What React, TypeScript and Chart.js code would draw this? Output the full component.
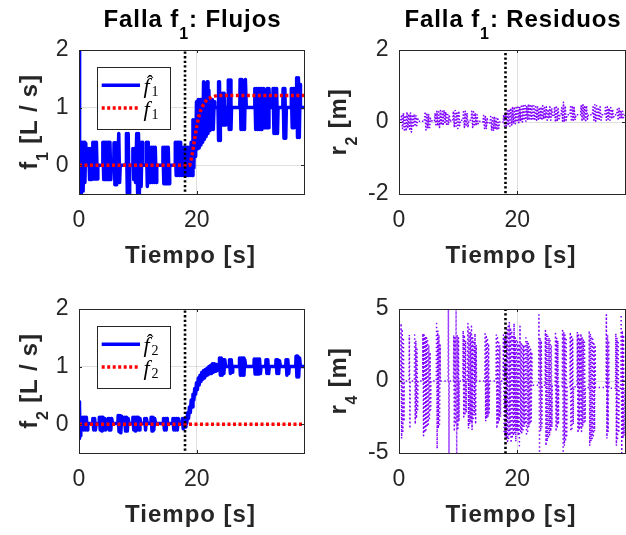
import React, { useEffect, useRef } from "react";
import { Chart, registerables } from "chart.js";

Chart.register(...registerables);

type Pt = [number, number];
type Part = { t: string; sub?: boolean };

// ---------- data (time [s], value) ----------
const T_MAX = 38.2;
const FAULT_TIME = 18;
const TIME_TICKS = [0, 20];
const FLOW_TICKS = [0, 1, 2];
const R2_TICKS = [-2, 0, 2];
const R4_TICKS = [-5, 0, 5];

const f1Estimate: Pt[] = [
  [0, 2], [0.1, -0.48], [0.25, 0.4], [0.4, -0.48], [0.55, 0.4], [0.7, -0.45], [0.85, 0.4], [1.0, -0.3], [1.15, 0.38], [1.25, 0],
  [1.6, 0], [1.65, 0.29], [1.8, -0.25], [1.95, 0.29], [2.1, -0.25], [2.15, 0],
  [2.3, 0], [2.35, 0.4], [2.5, -0.24], [2.65, 0.4], [2.8, -0.24], [2.95, 0.4], [3.1, -0.24], [3.2, 0],
  [4.0, 0], [4.05, 0.4], [4.2, -0.25], [4.35, 0.4], [4.5, -0.25], [4.65, 0.4], [4.8, -0.25], [4.95, 0.4], [5.1, -0.25], [5.25, 0.4], [5.4, -0.25], [5.5, 0],
  [5.9, 0], [5.95, 0.39], [6.1, -0.34], [6.25, 0.39], [6.4, -0.34], [6.55, 0.39], [6.6, 0],
  [6.75, 0.55], [6.9, -0.3], [7.0, 0],
  [8.0, 0], [8.05, 0.55], [8.2, -0.48], [8.35, 0.55], [8.5, -0.48], [8.6, 0],
  [9.1, 0], [9.15, 0.29], [9.3, -0.25], [9.45, 0.29], [9.6, -0.3], [9.8, 0.55], [9.95, -0.48], [10.1, 0.55], [10.25, -0.48], [10.4, 0.4], [10.55, -0.37], [10.7, 0.4], [10.8, 0],
  [11.4, 0], [11.45, 0.4], [11.6, -0.37], [11.75, 0.4], [11.9, -0.3], [12.05, 0.31], [12.2, -0.3], [12.35, 0.31], [12.5, -0.3], [12.65, 0.31], [12.8, -0.3], [12.95, 0.31], [13.1, -0.3], [13.2, 0],
  [14.2, 0], [14.25, 0.31], [14.4, -0.32], [14.55, 0.31], [14.7, -0.32], [14.85, 0.31], [15.0, -0.32], [15.15, 0.31], [15.3, -0.32], [15.4, 0],
  [16.3, 0], [16.35, 0.4], [16.5, -0.18], [16.65, 0.4], [16.8, -0.18], [16.95, 0.4], [17.1, -0.18], [17.25, 0.4], [17.4, -0.18], [17.55, 0.31], [17.7, -0.18], [17.85, 0.31], [18.0, -0.18], [18.15, 0.31], [18.3, -0.18], [18.45, 0.31], [18.6, -0.18], [18.75, 0.31], [18.9, -0.18], [19.05, 0.4],
  [19.2, -0.18], [19.35, 0.79], [19.5, -0.05], [19.65, 0.79], [19.8, 0.15], [19.95, 1.1], [20.1, 0.28], [20.25, 1.14], [20.4, 0.3], [20.55, 1.14], [20.7, 0.35], [20.85, 1.14], [21.0, 0.4], [21.15, 1.45], [21.3, 0.45], [21.45, 1.4], [21.6, 0.5], [21.75, 1.45], [21.9, 0.55], [22.05, 1.3], [22.2, 0.6], [22.35, 1.14], [22.5, 0.62], [22.65, 1.14], [22.8, 0.62], [22.95, 1.1], [23.05, 1],
  [23.6, 1], [23.65, 1.45], [23.75, 0.43], [23.85, 1.45], [23.95, 0.43], [24.0, 1],
  [24.3, 1], [24.35, 1.25], [24.5, 0.7], [24.65, 1.25], [24.8, 0.7], [24.95, 1],
  [25.3, 1], [25.35, 1.48], [25.5, 0.62], [25.65, 1.48], [25.8, 0.62], [25.9, 1],
  [27.3, 1], [27.35, 1.49], [27.5, 0.62], [27.65, 1.49], [27.8, 0.62], [27.95, 1.3], [28.1, 0.62], [28.25, 1.49], [28.4, 1],
  [29.8, 1], [29.85, 1.33], [30.0, 0.62], [30.15, 1.33], [30.3, 0.62], [30.45, 1.33], [30.6, 0.62], [30.75, 1.33], [30.9, 0.62], [31.05, 1.33], [31.2, 0.65], [31.35, 1.33], [31.5, 0.65], [31.65, 1.2], [31.8, 0.65], [31.95, 1.33], [32.1, 0.65], [32.25, 1.33], [32.4, 1],
  [32.9, 1], [32.95, 1.33], [33.1, 0.55], [33.25, 1.33], [33.4, 0.55], [33.55, 1.33], [33.7, 0.55], [33.8, 1],
  [34.6, 1], [34.65, 1.33], [34.8, 0.47], [34.95, 1.33], [35.1, 0.47], [35.2, 1],
  [36.0, 1], [36.05, 1.33], [36.2, 0.65], [36.35, 1.33], [36.5, 0.65], [36.6, 1],
  [36.9, 1], [36.95, 1.52], [37.1, 0.48], [37.25, 1.52], [37.4, 0.48], [37.55, 1.4], [37.6, 1], [38.2, 1],
];

const f1Actual: Pt[] = [
  [0, 0], [18.8, 0], [19.1, 0.12], [19.4, 0.3], [19.7, 0.5], [20.0, 0.68], [20.3, 0.83], [20.6, 0.94],
  [21.0, 1.03], [21.5, 1.11], [22.0, 1.16], [22.7, 1.19], [23.5, 1.21], [38.2, 1.21],
];

const f2Estimate: Pt[] = [
  [0, 0.39], [0.05, -0.25], [0.12, 0.3], [0.2, -0.2], [0.3, 0.1], [0.4, -0.05], [0.55, 0.02],
  [0.65, 0.12], [0.8, -0.1], [0.95, 0.12], [1.1, -0.1], [1.25, 0.12], [1.4, -0.1], [1.5, 0.01],
  [2.3, 0.01], [2.35, 0.1], [2.5, -0.1], [2.65, 0.1], [2.8, -0.1], [2.9, 0.01],
  [3.4, 0.01], [3.45, 0.12], [3.6, -0.1], [3.75, 0.12], [3.9, -0.12], [4.05, 0.12], [4.2, -0.1], [4.35, 0.1], [4.5, -0.1], [4.6, 0.01],
  [4.9, 0.01], [4.95, 0.1], [5.1, -0.1], [5.25, 0.1], [5.4, -0.1], [5.55, 0.1], [5.7, 0.01],
  [6.6, 0.01], [6.65, 0.15], [6.8, -0.13], [6.95, 0.15], [7.1, -0.15], [7.25, 0.14], [7.4, 0.01],
  [7.7, 0.01], [7.75, 0.12], [7.9, -0.12], [8.05, 0.12], [8.2, -0.12], [8.35, 0.1], [8.5, 0.01],
  [9.1, 0.01], [9.15, 0.12], [9.3, -0.1], [9.45, 0.12], [9.6, -0.12], [9.75, 0.12], [9.9, -0.1], [10.05, 0.12], [10.2, -0.1], [10.35, 0.1], [10.5, 0.01],
  [11.1, 0.01], [11.15, 0.1], [11.3, -0.1], [11.45, 0.1], [11.6, 0.01],
  [12.2, 0.01], [12.25, 0.12], [12.4, -0.12], [12.55, 0.12], [12.7, -0.1], [12.85, 0.1], [13.0, 0.01],
  [14.3, 0.01], [14.35, 0.1], [14.5, -0.1], [14.65, 0.1], [14.8, -0.1], [14.95, 0.1], [15.0, 0.01],
  [15.9, 0.01], [15.95, 0.1], [16.1, -0.1], [16.25, 0.1], [16.4, -0.1], [16.55, 0.1], [16.7, -0.1], [16.85, 0.1], [17.0, 0.01],
  [17.5, 0.01], [17.55, 0.1], [17.7, -0.08], [17.85, 0.1], [18.0, -0.05],
  [18.15, 0.1], [18.3, 0.02], [18.45, 0.2], [18.6, 0.1], [18.75, 0.3], [18.9, 0.2], [19.05, 0.42], [19.2, 0.3], [19.35, 0.52], [19.5, 0.42], [19.65, 0.62], [19.8, 0.52], [19.95, 0.72], [20.1, 0.6], [20.25, 0.8], [20.4, 0.68], [20.55, 0.85], [20.7, 0.74], [20.85, 0.9], [21.0, 0.78], [21.15, 0.93], [21.3, 0.8], [21.45, 0.95], [21.6, 0.84], [21.75, 0.97], [21.9, 0.86], [22.05, 1.0], [22.2, 0.88], [22.35, 1.02], [22.5, 0.88], [22.65, 1.05], [22.8, 0.9], [22.95, 1.05], [23.1, 0.92], [23.25, 1.04], [23.4, 0.93], [23.55, 1.03], [23.7, 0.97],
  [23.8, 1.0], [23.85, 1.15], [24.0, 0.85], [24.15, 1.15], [24.3, 0.85], [24.45, 1.12], [24.6, 0.88], [24.75, 1.12], [24.9, 1.0],
  [25.5, 1.0], [25.55, 1.12], [25.7, 0.88], [25.85, 1.12], [26.0, 0.9], [26.1, 1.0],
  [27.2, 1.0], [27.25, 1.15], [27.4, 0.85], [27.55, 1.15], [27.7, 0.85], [27.85, 1.15], [28.0, 0.85], [28.15, 1.12], [28.3, 1.0],
  [29.7, 1.0], [29.75, 1.13], [29.9, 0.87], [30.05, 1.13], [30.2, 0.87], [30.35, 1.13], [30.5, 0.87], [30.65, 1.13], [30.8, 0.88], [30.9, 1.0],
  [31.7, 1.0], [31.75, 1.12], [31.9, 0.88], [32.05, 1.12], [32.2, 0.88], [32.3, 1.0],
  [33.4, 1.0], [33.45, 1.12], [33.6, 0.88], [33.75, 1.12], [33.9, 0.88], [34.05, 1.1], [34.2, 1.0],
  [35.1, 1.0], [35.15, 1.12], [35.3, 0.85], [35.45, 1.12], [35.6, 0.88], [35.7, 1.0],
  [36.8, 1.0], [36.85, 1.18], [37.0, 0.82], [37.15, 1.18], [37.3, 0.82], [37.45, 1.15], [37.6, 1.0], [38.2, 1.0],
];

const f2Actual: Pt[] = [[0, 0], [38.2, 0]];

const r2Residual: Pt[] = [
  [0, 2.5], [0.02, -2.5], [0.04, 0],
  [0.3, 0.05], [0.45, 0.2], [0.6, -0.18], [0.75, 0.25], [0.9, -0.22], [1.05, 0.18], [1.2, -0.25], [1.35, 0.28], [1.5, -0.15], [1.65, 0.22], [1.8, -0.2], [1.95, 0.25], [2.1, -0.28], [2.25, 0.2], [2.4, -0.15], [2.55, 0.22], [2.7, -0.12], [2.85, 0.18], [3.0, -0.1], [3.15, 0.12], [3.3, 0.02],
  [4.3, 0.02], [4.4, 0.28], [4.55, -0.22], [4.7, 0.25], [4.85, -0.18], [5.0, 0.22], [5.15, -0.2], [5.3, 0.1], [5.4, 0.03],
  [6.0, 0.03], [6.1, 0.25], [6.25, -0.12], [6.4, 0.3], [6.55, -0.1], [6.7, 0.28], [6.85, -0.15], [7.0, 0.32], [7.15, -0.08], [7.3, 0.3], [7.45, -0.1], [7.6, 0.33], [7.75, -0.05], [7.9, 0.28], [8.05, -0.1], [8.2, 0.25], [8.35, -0.08], [8.5, 0.2], [8.65, 0.0], [8.8, 0.05],
  [9.1, 0.05], [9.2, 0.3], [9.35, -0.15], [9.5, 0.32], [9.65, -0.12], [9.8, 0.25], [9.95, -0.18], [10.1, 0.3], [10.25, -0.1], [10.4, 0.05],
  [10.8, 0.05], [10.9, 0.28], [11.05, -0.15], [11.2, 0.3], [11.35, -0.12], [11.5, 0.25], [11.65, -0.15], [11.8, 0.05],
  [12.2, 0.05], [12.3, 0.3], [12.45, -0.15], [12.6, 0.28], [12.75, -0.12], [12.9, 0.25], [13.05, -0.1], [13.2, 0.2], [13.35, -0.05], [13.5, 0.02],
  [14.2, 0.0], [14.3, 0.18], [14.45, -0.18], [14.6, 0.15], [14.75, -0.2], [14.9, 0.12], [15.0, -0.05],
  [15.4, -0.02], [15.5, 0.15], [15.65, -0.22], [15.8, 0.12], [15.95, -0.25], [16.1, 0.15], [16.25, -0.2], [16.4, 0.1], [16.55, -0.22], [16.7, 0.12], [16.85, -0.18], [17.0, 0.0],
  [17.6, 0.0], [17.7, 0.2], [17.85, -0.12], [18.0, 0.25], [18.15, -0.15], [18.3, 0.32], [18.45, -0.1], [18.6, 0.35], [18.75, -0.12], [18.9, 0.38], [19.05, -0.08], [19.2, 0.4], [19.35, -0.05], [19.5, 0.42], [19.65, -0.05], [19.8, 0.4], [19.95, 0.0], [20.1, 0.45], [20.25, -0.02], [20.4, 0.42], [20.55, 0.02], [20.7, 0.48], [20.85, 0.0], [21.0, 0.45], [21.15, 0.05], [21.3, 0.5], [21.45, 0.02], [21.6, 0.45], [21.75, 0.05], [21.9, 0.5], [22.05, 0.05], [22.2, 0.45], [22.35, 0.08], [22.5, 0.48], [22.65, 0.05], [22.8, 0.45], [22.95, 0.08], [23.1, 0.42], [23.25, 0.05], [23.4, 0.45], [23.55, 0.08], [23.7, 0.4], [23.85, 0.1], [24.0, 0.42], [24.15, 0.05], [24.3, 0.45], [24.45, 0.08], [24.6, 0.4], [24.75, 0.1], [24.9, 0.42], [25.05, 0.05], [25.2, 0.35], [25.35, 0.1], [25.5, 0.42], [25.65, 0.05], [25.8, 0.38], [25.95, 0.15],
  [26.2, 0.18], [26.3, 0.42], [26.45, 0.0], [26.6, 0.45], [26.75, 0.02], [26.9, 0.4], [27.05, 0.05], [27.2, 0.2],
  [27.4, 0.2], [27.5, 0.4], [27.65, 0.02], [27.8, 0.55], [27.95, 0.0], [28.1, 0.45], [28.25, 0.05], [28.4, 0.2],
  [28.9, 0.2], [29.0, 0.42], [29.15, 0.02], [29.3, 0.45], [29.45, 0.05], [29.6, 0.4], [29.75, 0.05], [29.9, 0.2],
  [30.7, 0.2], [30.8, 0.45], [30.95, 0.02], [31.1, 0.48], [31.25, 0.05], [31.4, 0.42], [31.55, 0.0], [31.7, 0.45], [31.85, 0.08], [32.0, 0.2],
  [32.7, 0.2], [32.8, 0.42], [32.95, 0.05], [33.1, 0.48], [33.25, 0.02], [33.4, 0.45], [33.55, 0.05], [33.7, 0.4], [33.85, 0.08], [34.0, 0.42], [34.15, 0.05], [34.3, 0.2],
  [34.8, 0.2], [34.9, 0.4], [35.05, 0.05], [35.2, 0.42], [35.35, 0.08], [35.5, 0.38], [35.65, 0.05], [35.8, 0.4], [35.95, 0.08], [36.1, 0.35], [36.25, 0.1], [36.4, 0.2],
  [36.8, 0.2], [36.9, 0.35], [37.05, 0.05], [37.2, 0.38], [37.35, 0.08], [37.5, 0.32], [37.65, 0.1], [37.8, 0.3], [37.95, 0.12], [38.2, 0.2],
];

const r4Residual: Pt[] = [
  [0, 6], [0.02, -6], [0.05, 0],
  [0.3, 0], [0.35, 4.0], [0.45, -4.0], [0.55, 3.6], [0.65, -3.5], [0.75, 3.0], [0.85, -2.8], [0.9, 0],
  [1.7, 0], [1.75, 3.2], [1.85, -3.3], [1.9, 0],
  [2.6, 0], [2.65, 3.2], [2.75, -3.0], [2.85, 2.8], [2.95, -2.6], [3.05, 2.2], [3.15, -2.0], [3.2, 0],
  [4.0, 0], [4.05, 3.3], [4.15, -3.8], [4.25, 3.2], [4.35, -3.6], [4.45, 3.1], [4.55, -3.4], [4.65, 3.0], [4.75, -3.2], [4.85, 2.8], [4.95, -3.0], [5.05, 2.5], [5.15, -2.6], [5.25, 2.0], [5.35, -2.0], [5.4, 0],
  [6.3, 0], [6.35, 4.0], [6.45, -4.7], [6.55, 3.5], [6.65, -3.3], [6.75, 3.2], [6.85, -3.0], [6.95, 2.5], [7.0, 0],
  [8.3, 0], [8.35, 5.0], [8.45, -5.0], [8.5, 0],
  [9.2, 0], [9.25, 3.2], [9.35, -3.5], [9.45, 3.0], [9.55, -3.0], [9.65, 5.0], [9.75, -5.0], [9.85, 3.2], [9.95, -3.3], [10.05, 3.0], [10.15, -2.8], [10.2, 0],
  [10.8, 0], [10.85, 3.5], [10.95, -2.5], [11.05, 3.2], [11.15, -2.4], [11.25, 2.8], [11.35, -2.2], [11.4, 0],
  [11.6, 0], [11.65, 4.0], [11.75, -3.3], [11.85, 3.6], [11.95, -3.0], [12.05, 3.4], [12.15, -2.8], [12.25, 3.8], [12.35, -3.4], [12.45, 3.0], [12.55, -2.6], [12.65, 2.8], [12.75, -2.4], [12.85, 3.3], [12.95, -3.0], [13.05, 2.5], [13.1, 0],
  [14.5, 0], [14.55, 3.4], [14.65, -2.8], [14.75, 3.2], [14.85, -2.6], [14.95, 3.0], [15.05, -2.5], [15.15, 2.6], [15.25, -2.2], [15.3, 0],
  [16.4, 0], [16.45, 3.2], [16.55, -3.3], [16.65, 3.0], [16.75, -3.0], [16.85, 2.8], [16.95, -2.8], [17.05, 2.5], [17.15, -2.5], [17.2, 0],
  [17.6, 0], [17.65, 3.2], [17.75, -3.5], [17.85, 3.0], [17.95, -3.8], [18.05, 3.3], [18.15, -4.0], [18.25, 3.6], [18.35, -4.2], [18.45, 3.8], [18.55, -4.0], [18.65, 4.1], [18.75, -3.8], [18.85, 3.7], [18.95, -4.3], [19.05, 3.5], [19.15, -4.0], [19.25, 3.2], [19.35, -3.8], [19.45, 4.0], [19.55, -3.6], [19.65, 3.0], [19.75, -4.2], [19.85, 2.8], [19.95, -3.5], [20.05, 2.7], [20.15, -3.8], [20.25, 2.6], [20.35, -4.5], [20.45, 3.8], [20.55, -3.5], [20.65, 2.7], [20.75, -3.6], [20.85, 2.6], [20.95, -3.4], [21.05, 2.5], [21.15, -3.2], [21.25, 2.4], [21.35, -3.0], [21.45, 3.0], [21.55, -3.8], [21.65, 2.8], [21.75, -3.5], [21.85, 2.6], [21.95, -3.2], [22.05, 2.4], [22.15, -3.0], [22.25, 2.2], [22.35, -2.8], [22.45, 2.0], [22.5, -0.3],
  [23.6, -0.3], [23.65, 4.6], [23.75, -5.0], [23.85, 3.0], [23.95, -3.5], [24.05, 2.8], [24.15, -3.2], [24.2, -0.3],
  [24.7, -0.3], [24.75, 3.5], [24.85, -4.5], [24.95, 3.3], [25.05, -4.2], [25.15, 3.1], [25.25, -4.0], [25.35, 3.0], [25.45, -3.8], [25.55, 2.8], [25.65, -3.5], [25.75, 2.5], [25.85, -3.2], [25.9, -0.35],
  [26.4, -0.35], [26.45, 3.3], [26.55, -3.5], [26.65, 3.0], [26.75, -3.2], [26.85, 2.8], [26.95, -3.0], [27.0, -0.35],
  [27.6, -0.35], [27.65, 3.5], [27.75, -5.0], [27.85, 3.4], [27.95, -4.5], [28.05, 3.2], [28.15, -4.2], [28.25, 3.0], [28.35, -3.8], [28.4, -0.4],
  [28.9, -0.4], [28.95, 3.4], [29.05, -3.5], [29.15, 3.2], [29.25, -3.3], [29.35, 3.0], [29.45, -3.0], [29.5, -0.4],
  [30.1, -0.4], [30.15, 3.4], [30.25, -3.6], [30.35, 3.2], [30.45, -3.4], [30.55, 3.0], [30.65, -3.2], [30.75, 3.3], [30.85, -3.5], [30.95, 3.1], [31.05, -3.2], [31.15, 2.9], [31.25, -3.0], [31.35, 2.7], [31.45, -2.8], [31.5, -0.45],
  [32.1, -0.45], [32.15, 3.5], [32.25, -4.5], [32.35, 3.3], [32.45, -4.2], [32.55, 3.1], [32.65, -4.0], [32.75, 2.9], [32.85, -3.8], [32.95, 2.7], [33.05, -3.5], [33.15, 2.5], [33.2, -0.45],
  [35.0, -0.45], [35.05, 4.6], [35.15, -4.0], [35.25, 3.2], [35.35, -3.5], [35.45, 2.8], [35.5, -0.5],
  [36.6, -0.5], [36.65, 3.3], [36.75, -4.5], [36.85, 3.0], [36.95, -4.0], [37.05, 2.8], [37.15, -3.6], [37.2, -0.5],
  [37.5, -0.5], [37.55, 4.6], [37.65, -5.0], [37.75, 3.5], [37.85, -4.0], [37.95, 3.2], [38.05, -3.8], [38.2, -0.5],
];

// ---------- styling ----------
const BLUE = "#0000ff";
const RED = "#ff0000";
const PURPLE = "#7f00ff";
const AXIS = "#262626";
const GRID = "rgba(38,38,38,0.15)";
const SANS = "'Liberation Sans', Arial, Helvetica, sans-serif";
const SERIF = "'Liberation Serif', 'DejaVu Serif', serif";

function drawRich(
  ctx: CanvasRenderingContext2D,
  parts: Part[],
  x: number,
  y: number,
  mainFont: string,
  subFont: string,
  subDy: number,
  spacing: number
) {
  ctx.textAlign = "left";
  ctx.textBaseline = "alphabetic";
  (ctx as any).letterSpacing = spacing + "px";
  const widths = parts.map((p) => {
    ctx.font = p.sub ? subFont : mainFont;
    return ctx.measureText(p.t).width;
  });
  const total = widths.reduce((a, b) => a + b, 0);
  let cx = x - total / 2;
  parts.forEach((p, i) => {
    ctx.font = p.sub ? subFont : mainFont;
    ctx.fillText(p.t, cx, y + (p.sub ? subDy : 0));
    cx += widths[i];
  });
  (ctx as any).letterSpacing = "0px";
}

type LegendEntry = { color: string; width: number; dash: number[]; hat: boolean; sub: string };

const decorPlugin = {
  id: "decor",
  afterDraw(chart: any, _args: any, opts: any) {
    const { ctx, chartArea: a } = chart;
    const xs = chart.scales.x;
    const ys = chart.scales.y;
    ctx.save();
    // inward tick marks
    ctx.strokeStyle = AXIS;
    ctx.lineWidth = 1;
    ctx.setLineDash([]);
    ctx.beginPath();
    for (const v of opts.xTicks as number[]) {
      const px = Math.round(xs.getPixelForValue(v)) + 0.5;
      ctx.moveTo(px, a.bottom);
      ctx.lineTo(px, a.bottom - 3);
      ctx.moveTo(px, a.top);
      ctx.lineTo(px, a.top + 3);
    }
    for (const v of opts.yTicks as number[]) {
      const py = Math.round(ys.getPixelForValue(v)) + 0.5;
      ctx.moveTo(a.left, py);
      ctx.lineTo(a.left + 3, py);
      ctx.moveTo(a.right, py);
      ctx.lineTo(a.right - 3, py);
    }
    ctx.stroke();
    // box
    ctx.strokeRect(Math.round(a.left) + 0.5, Math.round(a.top) + 0.5, Math.round(a.right - a.left), Math.round(a.bottom - a.top));

    const cxm = (a.left + a.right) / 2;
    const cym = (a.top + a.bottom) / 2;

    // title
    if (opts.title) {
      ctx.fillStyle = "#000";
      drawRich(ctx, opts.title, cxm + 1, a.top - 23.3, `bold 24px ${SANS}`, `bold 16px ${SANS}`, 12, 0.9);
    }
    // x label
    ctx.fillStyle = AXIS;
    drawRich(ctx, opts.xLabel, cxm - 1, a.bottom + 69, `bold 24px ${SANS}`, `bold 16px ${SANS}`, 11.5, 1);
    // y label (rotated)
    ctx.save();
    ctx.translate(a.left - opts.yLabelGap, cym);
    ctx.rotate(-Math.PI / 2);
    ctx.fillStyle = AXIS;
    drawRich(ctx, opts.yLabel, 0, 0, `bold 24px ${SANS}`, `bold 16px ${SANS}`, 11, 0.8);
    ctx.restore();

    // legend
    if (opts.legend) {
      const entries = opts.legend as LegendEntry[];
      const bx = Math.round(a.left + 17.7) + 0.5;
      const by = Math.round(a.top + 16.7) + 0.5;
      ctx.fillStyle = "#fff";
      ctx.fillRect(bx, by, 73, 62);
      ctx.strokeStyle = AXIS;
      ctx.lineWidth = 1;
      ctx.setLineDash([]);
      ctx.strokeRect(bx, by, 73, 62);
      entries.forEach((e, i) => {
        const ly = a.top + (i === 0 ? 35.3 : 58);
        ctx.save();
        ctx.strokeStyle = e.color;
        ctx.lineWidth = e.width;
        ctx.lineCap = "butt";
        ctx.setLineDash(e.dash);
        ctx.beginPath();
        ctx.moveTo(a.left + 22.7, ly);
        ctx.lineTo(a.left + 61, ly);
        ctx.stroke();
        ctx.restore();
        ctx.fillStyle = "#000";
        ctx.textAlign = "left";
        ctx.textBaseline = "alphabetic";
        ctx.font = `italic 22px ${SERIF}`;
        ctx.fillText("f", a.left + 64.5, ly + 8);
        if (e.hat) {
          ctx.font = `20px ${SERIF}`;
          ctx.textAlign = "center";
          ctx.fillText("\u02C6", a.left + 71, ly + 4.5);
          ctx.textAlign = "left";
        }
        ctx.font = `14px ${SERIF}`;
        ctx.fillText(e.sub, a.left + 72.5, ly + 10.5);
      });
    }
    ctx.restore();
  },
};

type Series = { pts: Pt[]; color: string; width: number; dash: number[] };

type PanelCfg = {
  x: number;
  y: number;
  w: number;
  h: number;
  area: { l: number; r: number; t: number; b: number };
  yMin: number;
  yMax: number;
  yTicks: number[];
  title: Part[] | null;
  yLabel: Part[];
  yLabelGap: number;
  legend: LegendEntry[] | null;
  series: Series[];
};

function Panel({ cfg }: { cfg: PanelCfg }) {
  const ref = useRef<HTMLCanvasElement>(null);
  useEffect(() => {
    const canvas = ref.current!;
    const faultLine: Series = {
      pts: [[FAULT_TIME, cfg.yMin - 1], [FAULT_TIME, cfg.yMax + 1]],
      color: "#000",
      width: 2.6,
      dash: [2.3, 2.3],
    };
    const all = [faultLine, ...cfg.series];
    const chart = new Chart(canvas, {
      type: "line",
      data: {
        datasets: all.map((s) => ({
          data: s.pts.map(([x, y]) => ({ x, y })),
          borderColor: s.color,
          borderWidth: s.width,
          borderDash: s.dash,
          borderCapStyle: "butt",
          borderJoinStyle: "round",
          pointRadius: 0,
          tension: 0,
          fill: false,
        })),
      } as any,
      options: {
        animation: false,
        responsive: false,
        devicePixelRatio: 1,
        events: [],
        layout: { padding: { left: 0, top: cfg.area.t, right: cfg.w - cfg.area.r, bottom: 0 } },
        plugins: {
          legend: { display: false },
          tooltip: { enabled: false },
          decor: {
            xTicks: TIME_TICKS,
            yTicks: cfg.yTicks,
            title: cfg.title,
            xLabel: [{ t: "Tiempo [s]" }],
            yLabel: cfg.yLabel,
            yLabelGap: cfg.yLabelGap,
            legend: cfg.legend,
          },
        } as any,
        scales: {
          x: {
            type: "linear",
            min: 0,
            max: T_MAX,
            afterBuildTicks: (s: any) => {
              s.ticks = TIME_TICKS.map((v) => ({ value: v }));
            },
            afterFit: (s: any) => {
              s.height = cfg.h - cfg.area.b;
            },
            grid: { color: GRID, lineWidth: 1, drawTicks: false },
            border: { display: false },
            ticks: {
              autoSkip: false,
              maxRotation: 0,
              padding: 13,
              color: AXIS,
              font: { family: SANS, size: 23 },
              callback: (v: any) => String(v),
            },
          },
          y: {
            type: "linear",
            min: cfg.yMin,
            max: cfg.yMax,
            afterBuildTicks: (s: any) => {
              s.ticks = cfg.yTicks.map((v) => ({ value: v }));
            },
            afterFit: (s: any) => {
              s.width = cfg.area.l;
            },
            grid: { color: GRID, lineWidth: 1, drawTicks: false },
            border: { display: false },
            ticks: {
              autoSkip: false,
              padding: 10.5,
              color: AXIS,
              font: { family: SANS, size: 23 },
              callback: (v: any) => String(v),
            },
          },
        },
      } as any,
      plugins: [decorPlugin as any],
    });
    return () => chart.destroy();
  }, [cfg]);
  return (
    <canvas
      ref={ref}
      width={cfg.w}
      height={cfg.h}
      style={{ position: "absolute", left: cfg.x, top: cfg.y, width: cfg.w, height: cfg.h }}
    />
  );
}

const estStyle = { color: BLUE, width: 3.5, dash: [] as number[] };
const actStyle = { color: RED, width: 3.5, dash: [3, 2.5] };
const r2Style = { color: PURPLE, width: 1.6, dash: [1.4, 1.8] };
const r4Style = { color: PURPLE, width: 1.5, dash: [1.4, 2.6] };

const panels: PanelCfg[] = [
  {
    x: 0, y: 0, w: 313, h: 270,
    area: { l: 79, r: 304, t: 50, b: 194 },
    yMin: -0.5, yMax: 2, yTicks: FLOW_TICKS,
    title: [{ t: "Falla f" }, { t: "1", sub: true }, { t: ": Flujos" }],
    yLabel: [{ t: "f" }, { t: "1", sub: true }, { t: " [L / s]" }],
    yLabelGap: 42,
    legend: [
      { color: BLUE, width: 3.5, dash: [], hat: true, sub: "1" },
      { color: RED, width: 3.5, dash: [3, 2.5], hat: false, sub: "1" },
    ],
    series: [
      { pts: f1Actual, ...actStyle },
      { pts: f1Estimate, ...estStyle },
    ],
  },
  {
    x: 313, y: 0, w: 313, h: 270,
    area: { l: 86, r: 312, t: 50, b: 194 },
    yMin: -2, yMax: 2, yTicks: R2_TICKS,
    title: [{ t: "Falla f" }, { t: "1", sub: true }, { t: ": Residuos" }],
    yLabel: [{ t: "r" }, { t: "2", sub: true }, { t: " [m]" }],
    yLabelGap: 53,
    legend: null,
    series: [{ pts: r2Residual, ...r2Style }],
  },
  {
    x: 0, y: 270, w: 313, h: 265,
    area: { l: 79, r: 304, t: 39, b: 183 },
    yMin: -0.5, yMax: 2, yTicks: FLOW_TICKS,
    title: null,
    yLabel: [{ t: "f" }, { t: "2", sub: true }, { t: " [L / s]" }],
    yLabelGap: 42,
    legend: [
      { color: BLUE, width: 3.5, dash: [], hat: true, sub: "2" },
      { color: RED, width: 3.5, dash: [3, 2.5], hat: false, sub: "2" },
    ],
    series: [
      { pts: f2Actual, ...actStyle },
      { pts: f2Estimate, ...estStyle },
    ],
  },
  {
    x: 313, y: 270, w: 313, h: 265,
    area: { l: 86, r: 312, t: 39, b: 183 },
    yMin: -5, yMax: 5, yTicks: R4_TICKS,
    title: null,
    yLabel: [{ t: "r" }, { t: "4", sub: true }, { t: " [m]" }],
    yLabelGap: 53,
    legend: null,
    series: [{ pts: r4Residual, ...r4Style }],
  },
];

export default function App() {
  return (
    <div style={{ position: "absolute", left: 0, top: 0, width: 626, height: 535, background: "#fff" }}>
      {panels.map((p, i) => (
        <Panel key={i} cfg={p} />
      ))}
    </div>
  );
}
